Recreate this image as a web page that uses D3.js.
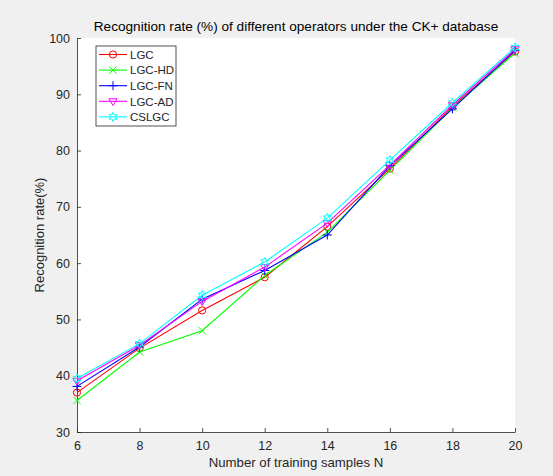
<!DOCTYPE html>
<html><head><meta charset="utf-8">
<script src="https://cdn.jsdelivr.net/npm/d3@7"></script>
<style>body{margin:0;background:#f0f0f0;}svg{display:block;font-family:Arial,"Liberation Sans",sans-serif;}</style>
</head><body>
<script>
const samplesN = [6, 8, 10, 12, 14, 16, 18, 20];
const seriesNames = ["LGC", "LGC-HD", "LGC-FN", "LGC-AD", "CSLGC"];
const lgc   = [37.0, 44.9, 51.6, 57.5, 66.5, 76.8, 87.8, 97.6];
const lgcHD = [35.6, 44.2, 48.0, 57.8, 65.5, 76.5, 87.6, 97.3];
const lgcFN = [38.1, 45.1, 53.6, 58.7, 65.0, 77.3, 87.4, 97.8];
const lgcAD = [39.1, 45.4, 53.2, 59.3, 67.1, 77.4, 88.1, 98.0];
const cslgc = [39.5, 45.7, 54.3, 60.2, 68.0, 78.3, 88.5, 98.3];
const yTicks = [30, 40, 50, 60, 70, 80, 90, 100];
const xTicks = [6, 8, 10, 12, 14, 16, 18, 20];

const seriesValues = [lgc, lgcHD, lgcFN, lgcAD, cslgc];
const colors = ["#ff0000", "#00ff00", "#0000ff", "#ff00ff", "#00ffff"];
const markers = ["circle", "x", "plus", "tri", "star"];

const W = 553, H = 476;
const m = {l: 77, r: 38, t: 38, b: 44};
const svg = d3.select("body").append("svg").attr("width", W).attr("height", H);
svg.append("rect").attr("width", W).attr("height", H).attr("fill", "#f0f0f0");

const x = d3.scaleLinear().domain([6, 20]).range([m.l, W - m.r]);
const y = d3.scaleLinear().domain([30, 100]).range([H - m.b, m.t]);

svg.append("rect").attr("x", x(6)).attr("y", y(100)).attr("width", x(20) - x(6)).attr("height", y(30) - y(100)).attr("fill", "#fff");

const axCol = "#262626";
const xAx = svg.append("g").attr("transform", `translate(0,${y(30)})`)
  .call(d3.axisBottom(x).tickValues(xTicks).tickSizeInner(-4).tickSizeOuter(0).tickPadding(9));
const yAx = svg.append("g").attr("transform", `translate(${x(6)},0)`)
  .call(d3.axisLeft(y).tickValues(yTicks).tickSizeInner(-4).tickSizeOuter(0).tickPadding(7));
[xAx, yAx].forEach(g => {
  g.selectAll("path").attr("stroke", axCol).attr("stroke-width", 0.8);
  g.selectAll("line").attr("stroke", axCol).attr("stroke-width", 0.8);
  g.selectAll("text").attr("fill", axCol).attr("font-size", 12.5).attr("font-family", "Arial, 'Liberation Sans', sans-serif");
});

function drawMarker(g, type, cx, cy, color) {
  const s = 3.6;
  if (type === "circle") {
    g.append("circle").attr("cx", cx).attr("cy", cy).attr("r", s).attr("fill", "none").attr("stroke", color).attr("stroke-width", 1);
  } else if (type === "x") {
    g.append("path").attr("d", `M${cx-s},${cy-s}L${cx+s},${cy+s}M${cx-s},${cy+s}L${cx+s},${cy-s}`).attr("stroke", color).attr("stroke-width", 1).attr("fill", "none");
  } else if (type === "plus") {
    const p = 4.5;
    g.append("path").attr("d", `M${cx-p},${cy}L${cx+p},${cy}M${cx},${cy-p}L${cx},${cy+p}`).attr("stroke", color).attr("stroke-width", 1).attr("fill", "none");
  } else if (type === "tri") {
    const t = 4.2;
    g.append("path").attr("d", `M${cx-t},${cy-t*0.6}L${cx+t},${cy-t*0.6}L${cx},${cy+t}Z`).attr("stroke", color).attr("stroke-width", 1).attr("fill", "none");
  } else if (type === "star") {
    const pts = [];
    for (let i = 0; i < 12; i++) {
      const r = i % 2 === 0 ? 4.6 : 2.3;
      const a = -Math.PI / 2 + i * Math.PI / 6;
      pts.push([cx + r * Math.cos(a), cy + r * Math.sin(a)]);
    }
    g.append("path").attr("d", "M" + pts.map(p => p.join(",")).join("L") + "Z").attr("stroke", color).attr("stroke-width", 1).attr("fill", "none");
  }
}

const line = d3.line().x((d, i) => x(samplesN[i])).y(d => y(d));
seriesValues.forEach((vals, k) => {
  const g = svg.append("g");
  g.append("path").datum(vals).attr("d", line).attr("fill", "none").attr("stroke", colors[k]).attr("stroke-width", 1.1);
  vals.forEach((v, i) => drawMarker(g, markers[k], x(samplesN[i]), y(v), colors[k]));
});

// legend
const lg = svg.append("g");
lg.append("rect").attr("x", 96).attr("y", 46).attr("width", 80).attr("height", 80).attr("fill", "#fff").attr("stroke", axCol).attr("stroke-width", 0.8);
seriesNames.forEach((name, k) => {
  const ly = 54.5 + k * 15.6;
  lg.append("line").attr("x1", 99).attr("x2", 127).attr("y1", ly).attr("y2", ly).attr("stroke", colors[k]).attr("stroke-width", 1.1);
  drawMarker(lg, markers[k], 113, ly, colors[k]);
  lg.append("text").attr("x", 130).attr("y", ly + 4.2).attr("font-size", 11.5).attr("fill", axCol).text(name);
});

svg.append("text").attr("x", (x(6) + x(20)) / 2).attr("y", 31).attr("text-anchor", "middle").attr("font-size", 13.6).attr("fill", "#000")
  .text("Recognition rate (%) of different operators under the CK+ database");
svg.append("text").attr("x", (x(6) + x(20)) / 2).attr("y", 467).attr("text-anchor", "middle").attr("font-size", 13.2).attr("fill", axCol)
  .text("Number of training samples N");
svg.append("text").attr("transform", `translate(44,${(y(30) + y(100)) / 2}) rotate(-90)`).attr("text-anchor", "middle").attr("font-size", 13).attr("fill", axCol)
  .text("Recognition rate(%)");
</script>
</body></html>
